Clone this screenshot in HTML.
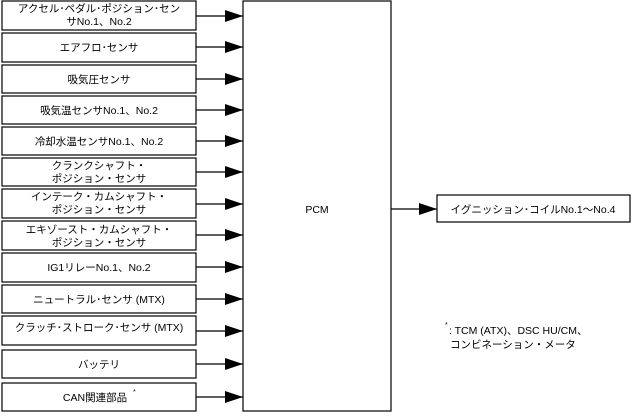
<!DOCTYPE html>
<html><head><meta charset="utf-8"><style>
html,body{margin:0;padding:0;background:#fff;}
svg text{font-family:"Liberation Sans","Noto Sans CJK JP",sans-serif;font-size:10.5px;fill:#000;}
</style></head><body>
<svg width="634" height="413" viewBox="0 0 634 413" xmlns="http://www.w3.org/2000/svg">
<defs><marker id="a" markerWidth="18" markerHeight="12" refX="18" refY="6" orient="auto" markerUnits="userSpaceOnUse"><path d="M0,0 L18,6 L0,12 Z" fill="#000"/></marker></defs>
<g fill="none" stroke="#000" stroke-width="1.2">
<rect x="2" y="1" width="194" height="29"/>
<rect x="2" y="33" width="194" height="29"/>
<rect x="2" y="65" width="194" height="28"/>
<rect x="2" y="96" width="194" height="28"/>
<rect x="2" y="127" width="194" height="28"/>
<rect x="2" y="158" width="194" height="28"/>
<rect x="2" y="189" width="194" height="29"/>
<rect x="2" y="221" width="194" height="29"/>
<rect x="2" y="253" width="194" height="29"/>
<rect x="2" y="285" width="194" height="28"/>
<rect x="2" y="316" width="194" height="29"/>
<rect x="2" y="350" width="194" height="28"/>
<rect x="2" y="383" width="194" height="28"/>
<rect x="243" y="1" width="148" height="410"/>
<rect x="437" y="195" width="193" height="27"/>
<g marker-end="url(#a)">
<line x1="196" y1="16" x2="243" y2="16"/>
<line x1="196" y1="47" x2="243" y2="47"/>
<line x1="196" y1="79" x2="243" y2="79"/>
<line x1="196" y1="110" x2="243" y2="110"/>
<line x1="196" y1="141" x2="243" y2="141"/>
<line x1="196" y1="172" x2="243" y2="172"/>
<line x1="196" y1="204" x2="243" y2="204"/>
<line x1="196" y1="235" x2="243" y2="235"/>
<line x1="196" y1="267" x2="243" y2="267"/>
<line x1="196" y1="299" x2="243" y2="299"/>
<line x1="196" y1="331" x2="243" y2="331"/>
<line x1="196" y1="364" x2="243" y2="364"/>
<line x1="196" y1="397" x2="243" y2="397"/>
<line x1="391" y1="209" x2="437" y2="209"/>
</g></g>
<g text-anchor="middle">
<text x="99" y="12">アクセル･ペダル･ポジション･セン</text>
<text x="99" y="25">サNo.1、No.2</text>
<text x="99" y="51">エアフロ･センサ</text>
<text x="99" y="83">吸気圧センサ</text>
<text x="99" y="114">吸気温センサNo.1、No.2</text>
<text x="99" y="145">冷却水温センサNo.1、No.2</text>
<text x="99" y="169">クランクシャフト・</text>
<text x="99" y="182">ポジション・センサ</text>
<text x="99" y="200">インテーク・カムシャフト・</text>
<text x="99" y="213">ポジション・センサ</text>
<text x="99" y="233">エキゾースト・カムシャフト・</text>
<text x="99" y="246">ポジション・センサ</text>
<text x="99" y="271">IG1リレーNo.1、No.2</text>
<text x="99" y="303">ニュートラル･センサ (MTX)</text>
<text x="99" y="331">クラッチ･ストローク･センサ (MTX)</text>
<text x="99" y="368">バッテリ</text>
<text x="95" y="401">CAN関連部品</text>
<text x="317" y="213">PCM</text>
<text x="533" y="213">イグニッション･コイルNo.1～No.4</text>
</g>
<text x="133" y="394" style="font-size:7px">*</text>
<text x="445" y="327" style="font-size:7px">*</text>
<text x="449" y="334">: TCM (ATX)、DSC HU/CM、</text>
<text x="450" y="348">コンビネーション・メータ</text>
</svg>
</body></html>
